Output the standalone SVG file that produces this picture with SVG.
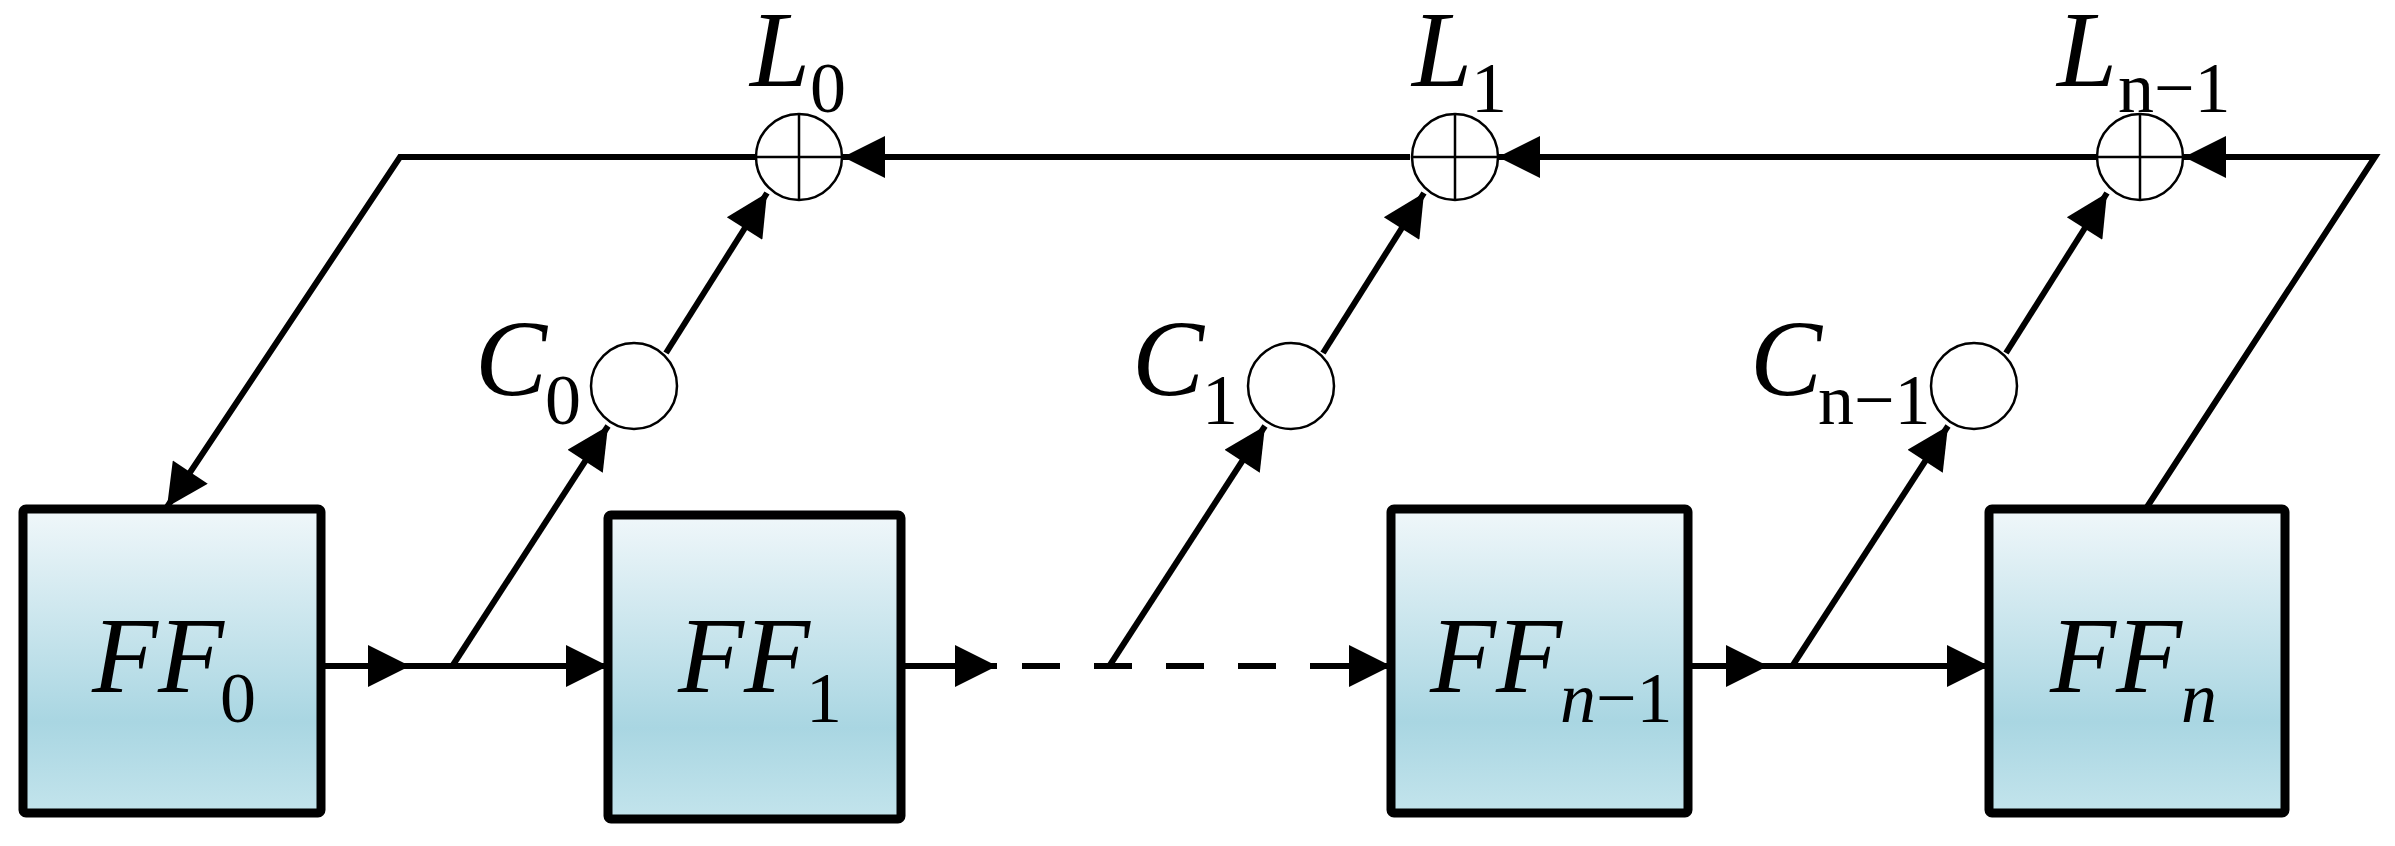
<svg xmlns="http://www.w3.org/2000/svg" width="2395" height="846" viewBox="0 0 2395 846" font-family="'Liberation Serif', 'Times New Roman', serif">
<style>
.box{stroke:#000;stroke-width:9;fill:url(#g)}
.ln{stroke:#000;stroke-width:6;fill:none}
.cir{stroke:#000;stroke-width:2.5;fill:#fff}
.x{stroke:#000;stroke-width:2.5}
text{font-family:'Liberation Serif','Times New Roman',serif;fill:#000}
.it{font-style:italic}
.big{font-size:108px}
.sub{font-size:72px}
</style>
<defs>
<linearGradient id="g" x1="0" y1="0" x2="0" y2="1">
<stop offset="0" stop-color="#f0f7fa"/>
<stop offset="0.7" stop-color="#a9d6e2"/>
<stop offset="1" stop-color="#c3e4ec"/>
</linearGradient>
<marker id="a" viewBox="0 0 10 10" refX="10" refY="5" markerWidth="8" markerHeight="7" markerUnits="strokeWidth" orient="auto">
<path d="M0,0 L10,5 L0,10 z" fill="#000"/>
</marker>
</defs>
<g id="connectors">
<path class="ln" d="M756,157 H400 L167,507" marker-end="url(#a)"/>
<path class="ln" d="M1410,157 H843" marker-end="url(#a)"/>
<path class="ln" d="M2096,157 H1498" marker-end="url(#a)"/>
<path class="ln" d="M2147,507 L2375,157 H2184" marker-end="url(#a)"/>
<path class="ln" d="M453,665 L608,426" marker-end="url(#a)"/>
<path class="ln" d="M666,353 L767,193" marker-end="url(#a)"/>
<path class="ln" d="M1110,665 L1265,426" marker-end="url(#a)"/>
<path class="ln" d="M1323,353 L1424,193" marker-end="url(#a)"/>
<path class="ln" d="M1793,665 L1948,426" marker-end="url(#a)"/>
<path class="ln" d="M2006,353 L2107,193" marker-end="url(#a)"/>
<path class="ln" d="M321,666 H410" marker-end="url(#a)"/>
<path class="ln" d="M405,666 H608" marker-end="url(#a)"/>
<path class="ln" d="M901,666 H997" marker-end="url(#a)"/>
<path class="ln" d="M1022,666 H1314" stroke-dasharray="38,34"/>
<path class="ln" d="M1310,666 H1391" marker-end="url(#a)"/>
<path class="ln" d="M1688,666 H1768" marker-end="url(#a)"/>
<path class="ln" d="M1763,666 H1989" marker-end="url(#a)"/>
</g>
<g id="FF0"><rect class="box" x="23" y="509" width="298" height="304" rx="3"/><text class="big it" x="92" y="692">FF</text><text class="sub" x="220" y="722">0</text></g>
<g id="FF1"><rect class="box" x="608" y="515" width="293" height="304" rx="3"/><text class="big it" x="678" y="692">FF</text><text class="sub" x="806" y="722">1</text></g>
<g id="FFn-1"><rect class="box" x="1391" y="509" width="297" height="304" rx="3"/><text class="big it" x="1430" y="692">FF</text><text class="sub" x="1560" y="722"><tspan class="it">n</tspan>−1</text></g>
<g id="FFn"><rect class="box" x="1989" y="509" width="296" height="304" rx="3"/><text class="big it" x="2050" y="692">FF</text><text class="sub it" x="2181" y="722">n</text></g>
<g id="L0"><circle class="cir" cx="799" cy="157" r="43"/><path class="x" d="M756,157 H842 M799,114 V200"/><text class="big it" x="750" y="86">L</text><text class="sub" x="810" y="112">0</text></g>
<g id="L1"><circle class="cir" cx="1455" cy="157" r="43"/><path class="x" d="M1412,157 H1498 M1455,114 V200"/><text class="big it" x="1412" y="86">L</text><text class="sub" x="1471" y="112">1</text></g>
<g id="Ln-1"><circle class="cir" cx="2140" cy="157" r="43"/><path class="x" d="M2097,157 H2183 M2140,114 V200"/><text class="big it" x="2057" y="86">L</text><text class="sub" x="2118" y="112">n−1</text></g>
<g id="C0"><circle class="cir" cx="634" cy="386" r="43"/><text class="big it" x="475" y="395">C</text><text class="sub" x="545" y="424">0</text></g>
<g id="C1"><circle class="cir" cx="1291" cy="386" r="43"/><text class="big it" x="1132" y="395">C</text><text class="sub" x="1202" y="424">1</text></g>
<g id="Cn-1"><circle class="cir" cx="1974" cy="386" r="43"/><text class="big it" x="1750" y="395">C</text><text class="sub" x="1818" y="424">n−1</text></g>
</svg>
